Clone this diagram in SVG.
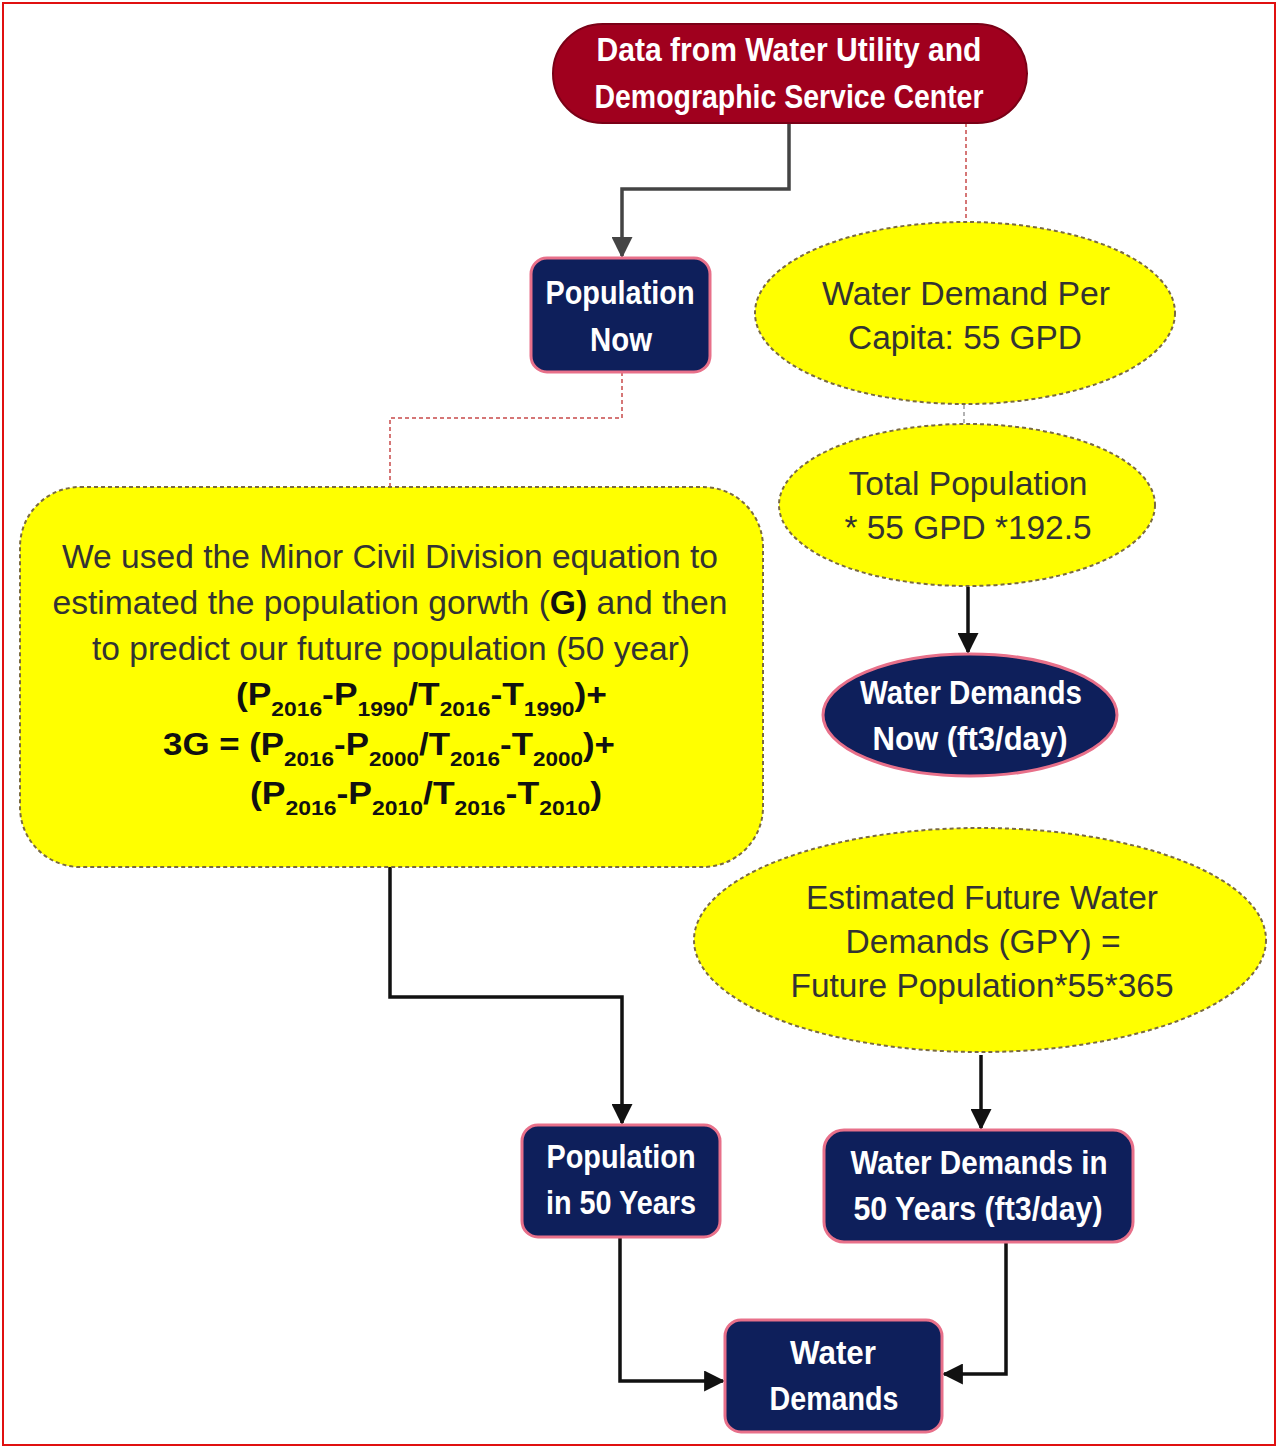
<svg xmlns="http://www.w3.org/2000/svg" width="1278" height="1449" viewBox="0 0 1278 1449">
<style>
.bold{font-family:"Liberation Sans",Arial,sans-serif;font-weight:bold;fill:#fff;font-size:33px;text-anchor:middle}
.reg{font-family:"Liberation Sans",Arial,sans-serif;fill:#333;font-size:33px;text-anchor:middle}
.frm{font-family:"Liberation Sans",Arial,sans-serif;font-weight:bold;fill:#111;font-size:31px}
.sub{font-size:20px}
.navy{fill:#0e1f5b;stroke:#e8708a;stroke-width:3}
.yel{fill:#ffff00;stroke:#7a6a40;stroke-width:2;stroke-dasharray:4 3}
.con{fill:none;stroke:#111;stroke-width:3.5}
.dot{fill:none;stroke:#c84a4a;stroke-width:1.5;stroke-dasharray:4 3}
</style>
<defs>
<marker id="ah" viewBox="0 0 10 10" refX="9" refY="5" markerWidth="6" markerHeight="6" markerUnits="strokeWidth" orient="auto">
<path d="M0,0 L10,5 L0,10 z" fill="#111"/>
</marker>
<marker id="ahg" viewBox="0 0 10 10" refX="9" refY="5" markerWidth="6" markerHeight="6" markerUnits="strokeWidth" orient="auto">
<path d="M0,0 L10,5 L0,10 z" fill="#444"/>
</marker>
</defs>
<rect x="0" y="0" width="1278" height="1449" fill="#fff"/>
<rect x="3" y="3" width="1272" height="1442" fill="none" stroke="#e01010" stroke-width="2"/>

<g id="connectors">
<path class="con" d="M789,123 V189 H622 V256" style="stroke:#444" marker-end="url(#ahg)"/>
<path class="dot" d="M966,123 V222"/>
<path class="dot" d="M622,372 V418 H390 V487"/>
<path class="dot" d="M964,405 V425" style="stroke:#999"/>
<path class="con" d="M968,587 V652" marker-end="url(#ah)"/>
<path class="dot" d="M980,830 V875" style="stroke:#a08040"/>
<path class="con" d="M390,867 V997 H622 V1123" marker-end="url(#ah)"/>
<path class="con" d="M981,1055 V1128" marker-end="url(#ah)"/>
<path class="con" d="M620,1237 V1381 H723" marker-end="url(#ah)"/>
<path class="con" d="M1006,1242 V1374 H944" marker-end="url(#ah)"/>
</g>

<g id="n-data">
<rect x="553" y="24" width="474" height="99" rx="49.5" fill="#a0001e" stroke="#7a0016" stroke-width="2"/>
<text class="bold" x="789" y="61" textLength="385" lengthAdjust="spacingAndGlyphs">Data from Water Utility and</text>
<text class="bold" x="789" y="108" textLength="389" lengthAdjust="spacingAndGlyphs">Demographic Service Center</text>
</g>

<g id="n-popnow">
<rect class="navy" x="531" y="258" width="179" height="114" rx="16"/>
<text class="bold" x="620" y="304" textLength="149" lengthAdjust="spacingAndGlyphs">Population</text>
<text class="bold" x="621" y="351" textLength="62" lengthAdjust="spacingAndGlyphs">Now</text>
</g>

<g id="n-percapita">
<ellipse class="yel" cx="965" cy="313" rx="210" ry="91"/>
<text class="reg" x="966" y="305" textLength="288" lengthAdjust="spacingAndGlyphs">Water Demand Per</text>
<text class="reg" x="965" y="349" textLength="234" lengthAdjust="spacingAndGlyphs">Capita: 55 GPD</text>
</g>

<g id="n-totalpop">
<ellipse class="yel" cx="967" cy="505" rx="188" ry="81"/>
<text class="reg" x="968" y="495" textLength="239" lengthAdjust="spacingAndGlyphs">Total Population</text>
<text class="reg" x="968" y="539" textLength="247" lengthAdjust="spacingAndGlyphs">* 55 GPD *192.5</text>
</g>

<g id="n-wdnow">
<ellipse class="navy" cx="970" cy="715" rx="147" ry="61"/>
<text class="bold" x="971" y="704" textLength="222" lengthAdjust="spacingAndGlyphs">Water Demands</text>
<text class="bold" x="970" y="750" textLength="195" lengthAdjust="spacingAndGlyphs">Now (ft3/day)</text>
</g>

<g id="n-method">
<rect class="yel" x="20" y="487" width="743" height="380" rx="60"/>
<text class="reg" x="390" y="568" textLength="656" lengthAdjust="spacingAndGlyphs">We used the Minor Civil Division equation to</text>
<text class="reg" x="390" y="614" textLength="675" lengthAdjust="spacingAndGlyphs">estimated the population gorwth (<tspan style="font-weight:bold;fill:#111">G)</tspan> and then</text>
<text class="reg" x="391" y="660" textLength="598" lengthAdjust="spacingAndGlyphs">to predict our future population (50 year)</text>
<text class="frm" x="236" y="705" textLength="371" lengthAdjust="spacingAndGlyphs">(P<tspan class="sub" dy="11">2016</tspan><tspan dy="-11">-P</tspan><tspan class="sub" dy="11">1990</tspan><tspan dy="-11">/T</tspan><tspan class="sub" dy="11">2016</tspan><tspan dy="-11">-T</tspan><tspan class="sub" dy="11">1990</tspan><tspan dy="-11">)+</tspan></text>
<text class="frm" x="163" y="755" textLength="452" lengthAdjust="spacingAndGlyphs">3G = (P<tspan class="sub" dy="11">2016</tspan><tspan dy="-11">-P</tspan><tspan class="sub" dy="11">2000</tspan><tspan dy="-11">/T</tspan><tspan class="sub" dy="11">2016</tspan><tspan dy="-11">-T</tspan><tspan class="sub" dy="11">2000</tspan><tspan dy="-11">)+</tspan></text>
<text class="frm" x="250" y="804" textLength="352" lengthAdjust="spacingAndGlyphs">(P<tspan class="sub" dy="11">2016</tspan><tspan dy="-11">-P</tspan><tspan class="sub" dy="11">2010</tspan><tspan dy="-11">/T</tspan><tspan class="sub" dy="11">2016</tspan><tspan dy="-11">-T</tspan><tspan class="sub" dy="11">2010</tspan><tspan dy="-11">)</tspan></text>
</g>

<g id="n-future">
<ellipse class="yel" cx="980" cy="940" rx="286" ry="112"/>
<text class="reg" x="982" y="909" textLength="352" lengthAdjust="spacingAndGlyphs">Estimated Future Water</text>
<text class="reg" x="983" y="953" textLength="275" lengthAdjust="spacingAndGlyphs">Demands (GPY) =</text>
<text class="reg" x="982" y="997" textLength="383" lengthAdjust="spacingAndGlyphs">Future Population*55*365</text>
</g>

<g id="n-pop50">
<rect class="navy" x="522" y="1125" width="198" height="112" rx="16"/>
<text class="bold" x="621" y="1168" textLength="149" lengthAdjust="spacingAndGlyphs">Population</text>
<text class="bold" x="621" y="1214" textLength="150" lengthAdjust="spacingAndGlyphs">in 50 Years</text>
</g>

<g id="n-wd50">
<rect class="navy" x="824" y="1130" width="309" height="112" rx="20"/>
<text class="bold" x="979" y="1174" textLength="257" lengthAdjust="spacingAndGlyphs">Water Demands in</text>
<text class="bold" x="978" y="1220" textLength="249" lengthAdjust="spacingAndGlyphs">50 Years (ft3/day)</text>
</g>

<g id="n-wd">
<rect class="navy" x="725" y="1320" width="217" height="112" rx="16"/>
<text class="bold" x="833" y="1364" textLength="86" lengthAdjust="spacingAndGlyphs">Water</text>
<text class="bold" x="834" y="1410" textLength="129" lengthAdjust="spacingAndGlyphs">Demands</text>
</g>
</svg>
